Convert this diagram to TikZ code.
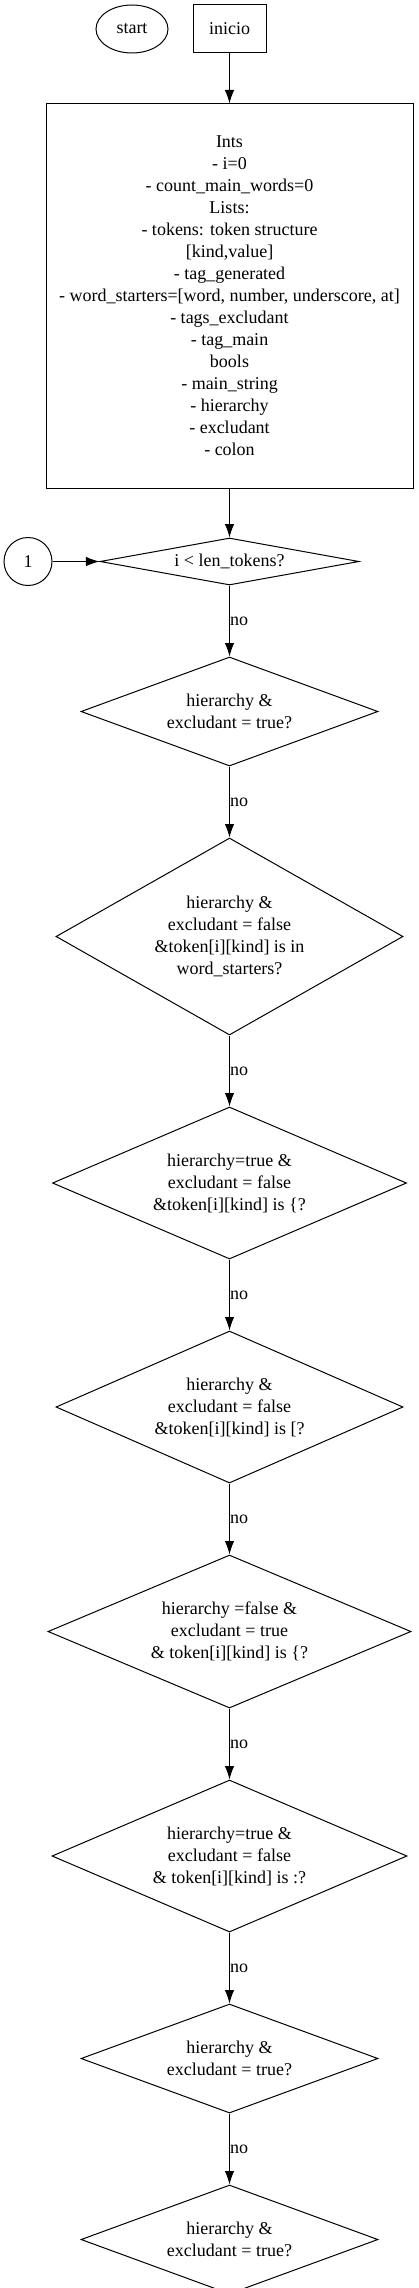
\documentclass[tikz,border=0pt]{standalone}
\usepackage{fontspec}
\setmainfont{Liberation Serif}
\usetikzlibrary{positioning, shapes.geometric, arrows.meta}

\newcommand{\graphfont}{\fontsize{18}{22}\selectfont}

\begin{document}
\begin{tikzpicture}[
    x=1pt, y=1pt,
    node distance=71pt,
    every node/.style={draw, line width=1pt, align=center, inner sep=0pt, font=\graphfont},
    process/.style={rectangle},
    terminal/.style={ellipse},
    decision/.style={diamond},
    flow/.style={draw, line width=1pt, -{Latex[length=13.5pt, width=9.5pt]}},
    answer/.style={draw=none, right},
]
    \useasboundingbox (0,0) rectangle (418,-2288);

    % top row
    \node[process, minimum width=73pt, minimum height=48pt] (inicio) at (229.5,-29) {inicio};
    \node[terminal, minimum width=72pt, minimum height=48pt, left=24pt of inicio] (start) {start};

    % declarations
    \node[process, minimum width=367pt, minimum height=384pt, below=50pt of inicio] (vars) {Ints\\- i=0\\- count\_main\_words=0\\Lists:\\- tokens: token structure\\{[}kind,value]\\- tag\_generated\\- word\_starters=[word, number, underscore, at]\\- tags\_excludant\\- tag\_main\\bools\\- main\_string\\- hierarchy\\- excludant\\- colon};

    % loop test
    \node[decision, aspect=5.5, minimum width=259pt, minimum height=47pt, below=49pt of vars] (cond) {i < len\_tokens?};
    \node[circle, minimum size=48pt, left=47pt of cond] (loop) {1};

    % chain of checks
    \node[decision, aspect=2.72, minimum width=297pt, minimum height=109pt, below=of cond] (bothtrue) {hierarchy \&\\excludant = true?};
    \node[decision, aspect=1.76, minimum width=347pt, minimum height=197pt, below=of bothtrue] (wordstart) {hierarchy \&\\excludant = false\\\&token[i][kind] is in\\word\_starters?};
    \node[decision, aspect=2.33, minimum width=354pt, minimum height=152pt, below=of wordstart] (openbrace) {hierarchy=true \&\\excludant = false\\\&token[i][kind] is \{?};
    \node[decision, aspect=2.28, minimum width=347pt, minimum height=152pt, below=of openbrace] (openbracket) {hierarchy \&\\excludant = false\\\&token[i][kind] is [?};
    \node[decision, aspect=2.37, minimum width=363pt, minimum height=153pt, below=of openbracket] (exclbrace) {hierarchy =false \&\\excludant = true\\\& token[i][kind] is \{?};
    \node[decision, aspect=2.34, minimum width=355pt, minimum height=152pt, below=of exclbrace] (colonchk) {hierarchy=true \&\\excludant = false\\\& token[i][kind] is :?};
    \node[decision, aspect=2.72, minimum width=297pt, minimum height=109pt, below=of colonchk] (bothtrueb) {hierarchy \&\\excludant = true?};
    \node[decision, aspect=2.72, minimum width=297pt, minimum height=109pt, below=of bothtrueb] (bothtruec) {hierarchy \&\\excludant = true?};

    % connectors
    \draw[flow] (inicio) -- (vars);
    \draw[flow] (vars) -- (cond);
    \draw[flow] (loop) -- (cond);
    \draw[flow] (cond) -- node[answer] {no} (bothtrue);
    \draw[flow] (bothtrue) -- node[answer] {no} (wordstart);
    \draw[flow] (wordstart) -- node[answer] {no} (openbrace);
    \draw[flow] (openbrace) -- node[answer] {no} (openbracket);
    \draw[flow] (openbracket) -- node[answer] {no} (exclbrace);
    \draw[flow] (exclbrace) -- node[answer] {no} (colonchk);
    \draw[flow] (colonchk) -- node[answer] {no} (bothtrueb);
    \draw[flow] (bothtrueb) -- node[answer] {no} (bothtruec);
\end{tikzpicture}
\end{document}
